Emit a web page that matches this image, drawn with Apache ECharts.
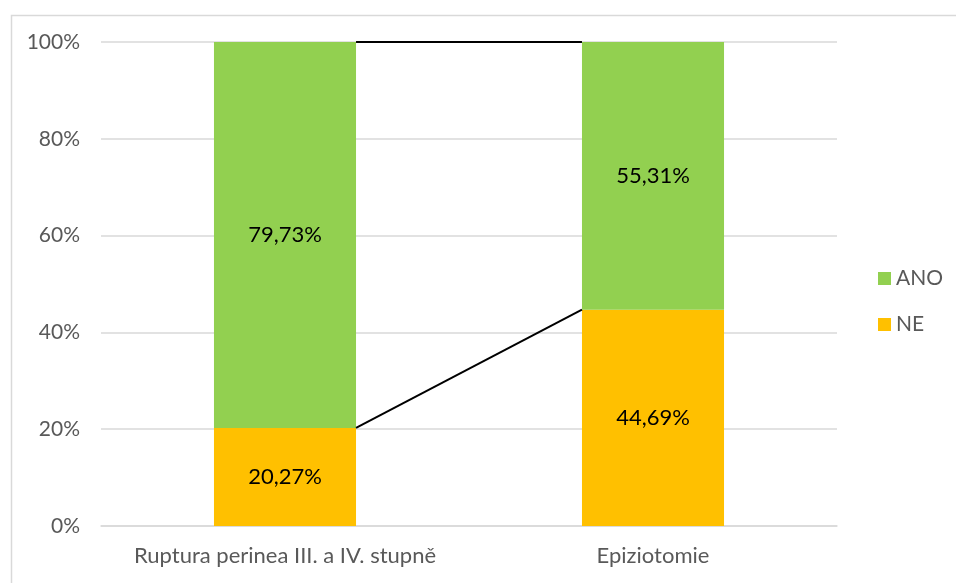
<!DOCTYPE html>
<html>
<head>
<meta charset="utf-8">
<script src="https://cdn.jsdelivr.net/npm/echarts@6/dist/echarts.min.js"></script>
<style>html,body{margin:0;padding:0;background:#fff}#c{width:956px;height:583px}</style>
</head>
<body>
<div id="c"></div>
<script>
var categories = ['Ruptura perinea III. a IV. stupně', 'Epiziotomie'];
var neValues = [20.27, 44.69];
var anoValues = [79.73, 55.31];
var yTicks = [0, 20, 40, 60, 80, 100];

var FONT = 'Lato';
var BAR_FRAC = 0.386;

function fmt(v) { return v.toFixed(2).replace('.', ',') + '%'; }

// series-line data: [category index, value at cat0 top, value at cat1 top]
var lineData = [
  [0, neValues[0], neValues[1]],
  [0, neValues[0] + anoValues[0], neValues[1] + anoValues[1]]
];

var chart = echarts.init(document.getElementById('c'));
chart.setOption({
  backgroundColor: '#fff',
  animation: false,
  graphic: [{
    type: 'rect', left: 9, top: 13, z: -1,
    shape: { width: 1000, height: 700 },
    style: { fill: 'none', stroke: '#d9d9d9', lineWidth: 1.5 }
  }],
  grid: { left: 101, right: 119, top: 42, bottom: 57, containLabel: false },
  legend: {
    orient: 'vertical', left: 873, top: 263,
    data: ['ANO', 'NE'], itemWidth: 13, itemHeight: 13, itemGap: 25,
    icon: 'rect',
    textStyle: { fontFamily: FONT, fontSize: 21, lineHeight: 20, color: '#595959' }
  },
  xAxis: {
    type: 'category', data: categories,
    axisTick: { show: false },
    axisLine: { show: true, lineStyle: { color: '#d9d9d9', width: 1.5 } },
    axisLabel: { interval: 0, hideOverlap: false, fontFamily: FONT, fontSize: 22, color: '#595959', margin: 19 }
  },
  yAxis: {
    type: 'value', min: yTicks[0], max: yTicks[yTicks.length - 1], interval: 20,
    axisLine: { show: false }, axisTick: { show: false },
    splitLine: { lineStyle: { color: '#d9d9d9', width: 1.5 } },
    axisLabel: { fontFamily: FONT, fontSize: 21, color: '#595959', margin: 21,
      formatter: function (v) { return v + '%'; } }
  },
  series: [
    {
      name: 'NE', type: 'bar', stack: 's', data: neValues, barWidth: (BAR_FRAC * 100) + '%',
      itemStyle: { color: '#FFC000' },
      label: { show: true, position: 'inside', color: '#000', fontFamily: FONT, fontSize: 22,
        formatter: function (p) { return fmt(p.value); } }
    },
    {
      name: 'ANO', type: 'bar', stack: 's', data: anoValues, barWidth: (BAR_FRAC * 100) + '%',
      itemStyle: { color: '#92D050' },
      label: { show: true, position: 'inside', color: '#000', fontFamily: FONT, fontSize: 22,
        formatter: function (p) { return fmt(p.value); } }
    },
    {
      type: 'custom', name: 'lines', data: lineData, z: 5,
      encode: { x: 0, y: 1 },
      renderItem: function (params, api) {
        var p1 = api.coord([0, api.value(1)]);
        var p2 = api.coord([1, api.value(2)]);
        var half = api.size([1, 0])[0] * BAR_FRAC / 2;
        return {
          type: 'line',
          shape: { x1: p1[0] + half, y1: p1[1], x2: p2[0] - half, y2: p2[1] },
          style: { stroke: '#000', lineWidth: 2 }
        };
      }
    }
  ]
});
</script>
</body>
</html>
